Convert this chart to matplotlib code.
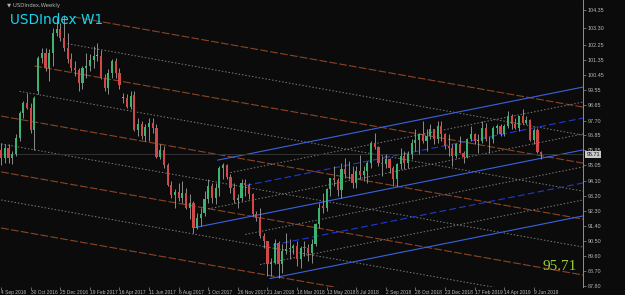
import numpy as np
import matplotlib
matplotlib.use("Agg")
import matplotlib.pyplot as plt

# weekly candles, week 0 = 4 Sep 2016
opens = [95.95, 95.45, 96.10, 95.50, 95.70, 96.70, 98.20, 98.80, 98.50, 97.15,
         99.50, 101.50, 101.80, 100.90, 101.80, 103.00, 103.20, 102.70, 102.10, 101.40,
         100.90, 100.75, 99.95, 100.90, 101.00, 101.35, 101.60, 101.60, 100.30, 99.70,
         100.55, 101.30, 100.60, 99.10, 99.05, 98.55, 99.25, 97.15, 97.50, 96.80,
         97.35, 97.55, 97.25, 95.55, 95.95, 95.05, 93.85, 93.25, 93.45, 93.10,
         93.40, 92.50, 92.80, 91.30, 91.85, 92.15, 93.00, 93.80, 93.10, 93.65,
         94.90, 95.05, 94.35, 93.70, 92.95, 93.10, 93.95, 93.85, 93.30, 92.10,
         91.90, 90.80, 90.50, 89.10, 89.20, 90.40, 89.10, 89.90, 90.00, 90.10,
         90.20, 89.40, 90.15, 90.05, 89.80, 90.30, 91.50, 92.60, 92.50, 93.60,
         94.25, 94.15, 93.55, 94.80, 94.50, 94.50, 94.00, 94.70, 94.45, 94.70,
         95.20, 96.40, 96.15, 95.20, 95.10, 95.40, 94.90, 94.20, 95.10, 95.60,
         95.20, 95.70, 96.40, 96.55, 96.90, 96.50, 96.80, 97.20, 96.60, 97.40,
         96.90, 96.20, 96.10, 95.60, 96.30, 95.80, 95.55, 96.60, 96.90, 96.50,
         96.50, 97.30, 96.60, 96.60, 97.30, 97.40, 96.90, 97.40, 98.00, 97.50,
         97.30, 98.00, 97.60, 97.75, 96.55, 97.15, 95.85]
highs = [96.35, 96.30, 96.30, 95.90, 96.90, 98.30, 98.90, 99.40, 98.80, 99.20,
         101.60, 102.10, 102.10, 102.00, 103.30, 103.90, 103.60, 104.05, 103.00, 101.80,
         101.30, 100.90, 101.00, 101.80, 101.70, 102.20, 102.40, 101.95, 100.50, 100.80,
         101.40, 101.50, 100.90, 99.40, 99.30, 99.50, 99.50, 97.90, 97.70, 97.50,
         97.90, 97.90, 97.50, 96.30, 96.20, 95.20, 94.10, 93.60, 94.00, 94.10,
         93.70, 93.30, 92.90, 92.20, 92.50, 93.50, 94.20, 94.00, 94.00, 95.00,
         95.20, 95.10, 94.50, 94.00, 93.30, 94.20, 94.20, 94.00, 93.40, 92.30,
         92.50, 91.00, 90.50, 89.50, 90.60, 90.50, 90.30, 91.00, 90.60, 90.30,
         90.50, 90.20, 90.50, 90.30, 90.60, 91.60, 92.80, 93.40, 93.70, 94.30,
         95.00, 94.30, 95.20, 95.50, 95.30, 95.00, 95.00, 95.65, 95.00, 95.30,
         96.50, 96.98, 96.20, 95.60, 95.70, 95.50, 95.00, 95.20, 96.10, 95.90,
         95.90, 96.60, 97.20, 97.00, 97.70, 97.20, 97.50, 97.20, 97.70, 97.70,
         97.00, 96.90, 96.30, 96.40, 96.80, 95.90, 96.70, 97.40, 97.00, 96.90,
         97.70, 97.60, 96.80, 97.40, 97.50, 97.50, 97.50, 98.30, 98.10, 97.90,
         98.00, 98.40, 98.00, 97.80, 97.30, 97.30, 95.90]
lows = [95.05, 95.20, 95.20, 95.10, 95.60, 96.50, 97.90, 98.40, 97.00, 95.95,
        99.30, 101.20, 100.70, 100.10, 101.00, 102.80, 102.50, 101.90, 101.20, 100.70,
        100.40, 99.50, 99.60, 100.30, 100.70, 100.90, 101.30, 100.20, 99.50, 99.30,
        100.30, 100.30, 99.60, 98.80, 98.50, 98.40, 97.10, 96.80, 96.60, 96.50,
        96.50, 97.00, 95.50, 95.40, 94.90, 93.80, 93.10, 92.50, 92.90, 92.80,
        92.40, 91.80, 91.00, 91.20, 91.40, 92.00, 92.80, 92.80, 92.70, 93.20,
        94.20, 94.20, 93.40, 92.80, 92.50, 92.90, 93.20, 93.00, 92.00, 91.70,
        90.70, 90.10, 88.40, 88.40, 89.10, 88.25, 88.60, 89.70, 89.40, 89.70,
        89.00, 88.90, 89.60, 89.30, 89.20, 90.20, 91.30, 92.20, 92.30, 93.20,
        93.80, 93.20, 93.10, 94.30, 94.20, 93.70, 93.70, 94.20, 94.10, 94.00,
        94.90, 96.00, 95.00, 94.40, 94.90, 94.60, 93.80, 93.80, 94.80, 94.80,
        94.90, 95.40, 95.90, 95.70, 96.40, 95.90, 96.60, 96.30, 96.40, 96.50,
        96.00, 95.60, 95.00, 95.50, 95.80, 95.20, 95.50, 96.50, 96.30, 95.80,
        96.40, 96.50, 95.80, 96.40, 96.90, 96.80, 96.80, 97.30, 97.20, 97.20,
        97.10, 97.50, 97.50, 96.50, 96.30, 95.80, 95.40]
closes = [95.45, 96.10, 95.50, 95.70, 96.70, 98.20, 98.80, 98.50, 97.15, 99.10,
          101.50, 101.80, 100.90, 101.80, 103.00, 103.20, 102.70, 102.10, 101.40, 100.90,
          100.75, 99.95, 100.90, 101.00, 101.35, 101.60, 101.60, 100.30, 99.70, 100.55,
          101.30, 100.60, 99.85, 99.10, 98.55, 99.20, 97.15, 97.50, 96.80, 97.35,
          97.55, 97.25, 95.55, 95.95, 95.05, 93.85, 93.25, 93.45, 93.10, 93.40,
          92.50, 92.80, 91.30, 91.85, 92.10, 93.00, 93.80, 93.10, 93.65, 94.90,
          95.05, 94.35, 93.70, 92.95, 93.10, 93.95, 93.85, 93.30, 92.10, 91.90,
          90.80, 90.50, 89.10, 89.20, 90.40, 89.10, 89.90, 90.00, 90.10, 90.20,
          89.40, 90.10, 90.05, 89.80, 90.30, 91.50, 92.50, 92.50, 93.60, 94.25,
          94.15, 93.55, 94.80, 94.50, 94.50, 94.00, 94.70, 94.45, 94.70, 95.15,
          96.40, 96.15, 95.20, 95.10, 95.40, 94.90, 94.20, 95.10, 95.60, 95.20,
          95.70, 96.40, 96.55, 96.90, 96.50, 96.80, 97.20, 96.60, 97.40, 96.90,
          96.20, 96.10, 95.60, 96.30, 95.80, 95.55, 96.60, 96.90, 96.50, 96.50,
          97.30, 96.60, 96.60, 97.30, 97.40, 96.90, 97.40, 98.00, 97.50, 97.30,
          98.00, 97.60, 97.75, 96.55, 97.15, 95.85, 95.71]

date_ticks = [0, 8, 16, 24, 32, 40, 48, 56, 64, 72, 80, 88, 96, 104, 112, 120, 128, 136, 144]
date_labels = ["4 Sep 2016", "30 Oct 2016", "25 Dec 2016", "19 Feb 2017", "16 Apr 2017",
               "11 Jun 2017", "6 Aug 2017", "1 Oct 2017", "26 Nov 2017", "21 Jan 2018",
               "18 Mar 2018", "13 May 2018", "8 Jul 2018", "2 Sep 2018", "28 Oct 2018",
               "23 Dec 2018", "17 Feb 2019", "14 Apr 2019", "9 Jun 2019"]
price_ticks = [104.35, 103.30, 102.25, 101.35, 100.45, 99.55, 98.65, 97.70, 96.85, 95.95,
               95.05, 94.10, 93.20, 92.30, 91.40, 90.50, 89.60, 88.70, 87.80]

bid = 95.71

# falling channel: level at week 0, first week drawn, kind
fall_levels = [104.71, 103.03, 101.35, 99.67, 97.99, 96.32, 94.64, 92.96, 91.28]
fall_start = [19.5, 18, 9, 5, 0, 0, 0, 0, 0]
fall_kind = ["main", "mid", "main", "mid", "main", "mid", "main", "mid", "main"]
fall_slope = -0.0393

# rising channel: level at right edge, first week drawn, kind
rise_levels = [99.73, 98.83, 97.87, 96.92, 95.96, 94.94, 93.98, 92.96, 92.00]
rise_start = [58.6, 62, 66, 56, 52.4, 66, 70.8, 70, 72.7]
rise_kind = ["solid", "mid", "dash", "mid", "solid", "mid", "dash", "mid", "solid"]
rise_slope = 0.04436

x_left, x_right = -0.3, 157.3
y_low, y_high = 87.74, 104.95

bg = "#0b0b0b"
small = "Liberation Sans"
fig = plt.figure(figsize=(6.25, 2.95), dpi=100, facecolor=bg)
ax = fig.add_axes([0.0, 8 / 295, 583 / 625, 287 / 295], facecolor=bg)
ax.set_xlim(x_left, x_right)
ax.set_ylim(y_low, y_high)

# channel lines
for lev, s, kind in zip(fall_levels, fall_start, fall_kind):
    xs = np.array([s, x_right])
    ys = lev + fall_slope * xs
    if kind == "main":
        ax.plot(xs, ys, color="#8a4526", lw=0.8, ls=(0, (7, 2)), zorder=1)
    else:
        ax.plot(xs, ys, color="#7c7c7c", lw=0.7, ls=(0, (1.5, 2)), zorder=1)

for lev, s, kind in zip(rise_levels, rise_start, rise_kind):
    xs = np.array([s, x_right])
    ys = lev + rise_slope * (xs - x_right)
    if kind == "solid":
        ax.plot(xs, ys, color="#3a62e0", lw=0.8, zorder=1)
    elif kind == "dash":
        ax.plot(xs, ys, color="#2038d8", lw=0.8, ls=(0, (6, 3)), zorder=1)
    else:
        ax.plot(xs, ys, color="#7c7c7c", lw=0.7, ls=(0, (1.5, 2)), zorder=1)

ax.axhline(bid, color="#333333", lw=0.7, zorder=1)

# candles
o = np.array(opens)
h = np.array(highs)
l = np.array(lows)
c = np.array(closes)
k = np.arange(len(c))
ax.vlines(k, l, h, color="#a0a0a0", lw=0.6, zorder=2)
cols = np.where(c > o, "#3cb371", np.where(c < o, "#d04848", "#d4a017"))
body = np.maximum(np.abs(c - o), 0.04)
ax.bar(k, body, bottom=np.minimum(o, c), width=0.58, color=cols, lw=0, zorder=3)

# axes styling
for side in ["top", "left", "bottom"]:
    ax.spines[side].set_visible(False)
ax.spines["right"].set_color("#909090")
ax.spines["right"].set_linewidth(0.7)
ax.yaxis.tick_right()
ax.set_yticks(price_ticks)
ax.set_yticklabels(["%.2f" % p for p in price_ticks], family=small)
ax.tick_params(axis="y", colors="#909090", labelcolor="#b8b8b8", labelsize=3.9,
               length=2, width=0.5, pad=1.5)
ax.set_xticks(date_ticks)
ax.set_xticklabels(date_labels, ha="left", family=small)
ax.tick_params(axis="x", colors="#909090", labelcolor="#b8b8b8", labelsize=3.5,
               length=2, width=0.5, pad=0.5)

ax.text(0.012, 0.99, "\u25bc USDIndex,Weekly", transform=ax.transAxes, color="#b0b0b0",
        fontsize=3.9, va="top", ha="left", family="DejaVu Sans")
ax.text(0.018, 0.955, "USDIndex W1", transform=ax.transAxes, color="#15d6f0",
        fontsize=9.8, va="top", ha="left", family="DejaVu Sans")
ax.text(0.99, 0.07, "95.71", transform=ax.transAxes, color="#9acd32",
        fontsize=11, va="center", ha="right", family="Liberation Serif")
ax.text(1.006, (bid - y_low) / (y_high - y_low), "%.2f" % bid, transform=ax.transAxes,
        color="#101010", fontsize=3.9, va="center", ha="left", family=small,
        bbox=dict(boxstyle="square,pad=0.2", fc="#c8c8c8", ec="none"))

fig.savefig("out.png", dpi=100, facecolor=bg)
